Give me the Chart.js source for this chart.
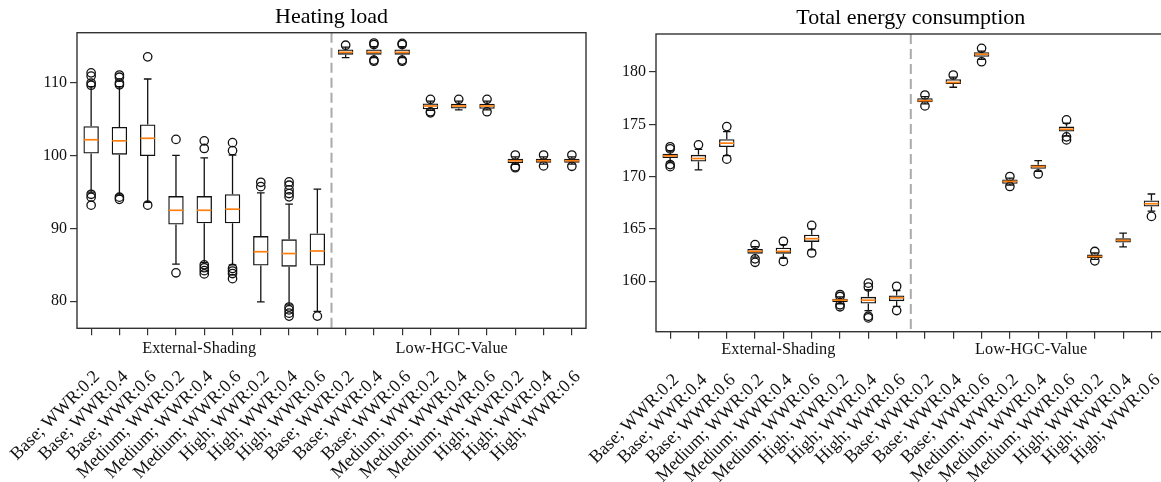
<!DOCTYPE html>
<html><head><meta charset="utf-8">
<script src="https://cdn.jsdelivr.net/npm/chart.js@4.4.0/dist/chart.umd.min.js"></script>
<style>
html,body{margin:0;padding:0;overflow:hidden;background:#fff;width:1161px;height:482px;}
.w{position:absolute;top:0;height:482px;}
</style></head><body>
<div class="w" style="left:0;width:600px"><canvas id="c1" width="600" height="482"></canvas></div>
<div class="w" style="left:540px;width:660px"><canvas id="c2" width="660" height="482"></canvas></div>
<script>
// ---- categories ----
const variants = ['Base; WWR:0.2','Base; WWR:0.4','Base; WWR:0.6','Medium; WWR:0.2','Medium; WWR:0.4','Medium; WWR:0.6','High; WWR:0.2','High; WWR:0.4','High; WWR:0.6'];
const groups = ['External-Shading','Low-HGC-Value'];
const categories = groups.flatMap(() => variants);
const separatorAt = 8.5;
const groupLabelAt = [3.82, 12.75];

// ---- Heating load ----
const heatQ1  = [100.3,100.15,99.95,90.55,90.7,90.7,84.9,84.75,84.9, 113.9,113.9,113.9,106.4,106.5,106.45,99.0,99.05,99.05];
const heatMed = [102.2,102.05,102.4,92.5,92.5,92.65,86.8,86.55,86.9, 114.22,114.22,114.22,106.84,106.84,106.84,99.31,99.31,99.31];
const heatQ3  = [104.05,103.95,104.3,94.45,94.45,94.7,88.95,88.5,89.3, 114.6,114.6,114.6,107.2,107.15,107.15,99.6,99.6,99.6];
const heatLo  = [95.0,94.6,93.6,85.1,85.3,85.0,79.9,79.5,78.6, 113.5,113.5,113.5,106.25,106.3,106.3,98.8,98.85,98.85];
const heatHi  = [109.5,109.5,110.55,100.05,99.7,100.1,94.9,93.35,95.4, 114.95,115.0,115.0,107.5,107.5,107.5,99.85,99.85,99.85];
const heatOut = [
  [111.4,110.95,110.0,109.7,94.7,94.3,93.2],
  [111.1,110.8,110.0,109.75,94.3,94.0],
  [113.6,93.2],
  [102.25,83.9],
  [102.05,101.0,85.0,84.6,84.2,83.75],
  [101.8,100.7,84.5,84.15,83.8,83.1],
  [96.35,95.75],
  [96.4,95.95,95.3,94.8,94.35,79.2,78.8,78.35,77.95],
  [77.95],
  [115.2],
  [115.3,115.5,113.15,113.0],
  [115.3,115.45,113.15,113.0],
  [107.76,106.05,105.9],
  [107.76],
  [107.76,106.05],
  [100.1,98.5,98.35],
  [100.1,98.6],
  [100.1,98.55]
];
const heatTicks = {min: 76.27, max: 116.92, step: 10};

// ---- Total energy consumption ----
const enQ1  = [171.77,171.45,172.82,162.64,162.64,163.76,158.01,157.88,158.1, 177.11,178.86,181.46,169.32,170.75,174.31,162.2,163.7,167.15];
const enMed = [171.99,171.73,173.2,162.86,162.86,164.07,158.2,158.19,158.42, 177.26,179.0,181.69,169.54,170.97,174.53,162.37,163.91,167.41];
const enQ3  = [172.18,172.08,173.58,163.09,163.2,164.45,158.33,158.51,158.64, 177.49,179.3,181.88,169.73,171.13,174.78,162.55,164.1,167.73];
const enLo  = [171.4,170.65,172.0,162.3,162.2,163.0,157.85,157.2,157.6, 176.95,178.54,181.2,169.2,170.5,173.9,162.1,163.28,166.7];
const enHi  = [172.45,172.6,174.3,163.3,163.5,165.0,158.5,159.2,159.1, 177.65,179.5,182.0,169.85,171.52,175.1,162.7,164.6,168.34];
const enOut = [
  [172.85,172.65,171.15,170.95],
  [173.04],
  [174.78,171.67],
  [163.5,162.14,161.81],
  [163.82,161.9],
  [165.34,162.7],
  [158.73,158.55,157.75,157.56],
  [159.82,159.45,156.66,156.5],
  [159.52,157.2],
  [177.8,176.76],
  [179.71],
  [182.26,180.98],
  [170.01,169.06],
  [170.25],
  [175.42,173.8,173.51],
  [162.85,161.95],
  [],
  [166.2]
];
const enTicks = {min: 155.18, max: 183.63, step: 5};

const FONT = "'Liberation Serif','Times New Roman',serif";
const boxFrac = 0.545, capHalf = 0.135, medHalf = 0.255;

function boxPlugin(s) {
  return {
    id: 'boxplot',
    afterDatasetsDraw(chart) {
      const {ctx, chartArea: a, scales: {x, y}} = chart;
      ctx.save();
      const sx = x.getPixelForValue(separatorAt);
      ctx.strokeStyle = '#aaaaaa'; ctx.lineWidth = 2; ctx.setLineDash([10, 5]);
      ctx.beginPath(); ctx.moveTo(sx, a.top); ctx.lineTo(sx, a.bottom); ctx.stroke();
      ctx.setLineDash([]);
      ctx.strokeStyle = '#111'; ctx.lineWidth = 1.3;
      s.q1.forEach((_, i) => {
        const px = x.getPixelForValue(i);
        const cl = x.getPixelForValue(i - capHalf), cr = x.getPixelForValue(i + capHalf);
        const yh = y.getPixelForValue(s.hi[i]), yl = y.getPixelForValue(s.lo[i]);
        ctx.beginPath();
        ctx.moveTo(px, y.getPixelForValue(s.q3[i])); ctx.lineTo(px, yh);
        ctx.moveTo(px, y.getPixelForValue(s.q1[i])); ctx.lineTo(px, yl);
        ctx.moveTo(cl, yh); ctx.lineTo(cr, yh);
        ctx.moveTo(cl, yl); ctx.lineTo(cr, yl);
        ctx.stroke();
      });
      ctx.strokeStyle = '#ff7f0e'; ctx.lineWidth = 1.7;
      s.med.forEach((m, i) => {
        const ym = y.getPixelForValue(m);
        ctx.beginPath();
        ctx.moveTo(x.getPixelForValue(i - medHalf), ym);
        ctx.lineTo(x.getPixelForValue(i + medHalf), ym);
        ctx.stroke();
      });
      ctx.restore();
    },
    afterDraw(chart) {
      const {ctx, chartArea: a, scales: {x}} = chart;
      ctx.save();
      ctx.strokeStyle = '#333'; ctx.lineWidth = 1.4;
      ctx.strokeRect(a.left, a.top, a.right - a.left, a.bottom - a.top);
      ctx.fillStyle = '#111'; ctx.font = '16.3px ' + FONT;
      ctx.textAlign = 'center'; ctx.textBaseline = 'middle';
      groups.forEach((g, k) => ctx.fillText(g, x.getPixelForValue(groupLabelAt[k]), a.bottom + s.groupDy));
      ctx.restore();
    }
  };
}

function makeChart(id, s) {
  const boxes = s.q1.map((q, i) => ({x: i, y: [q, s.q3[i]]}));
  const outs = s.out.flatMap((arr, i) => arr.map(v => ({x: i, y: v})));
  return new Chart(document.getElementById(id), {
    type: 'bar',
    data: {
      datasets: [
        {type: 'bar', data: boxes, backgroundColor: 'rgba(0,0,0,0)', borderColor: '#111', borderWidth: 1.3,
         borderSkipped: false, barPercentage: boxFrac, categoryPercentage: 1, order: 2},
        {type: 'scatter', data: outs, pointRadius: 4.2, pointBorderWidth: 1.3, pointBorderColor: '#111',
         pointBackgroundColor: 'rgba(0,0,0,0)', pointStyle: 'circle', showLine: false, order: 1}
      ]
    },
    options: {
      responsive: false, animation: false, events: [],
      layout: {padding: {left: 0, right: s.padRight, top: 0, bottom: 0}},
      plugins: {
        legend: {display: false}, tooltip: {enabled: false},
        title: {display: true, text: s.title, fullSize: false, color: '#000',
                font: {family: FONT, size: 22, weight: 'normal', lineHeight: 1.2},
                padding: {top: s.titleTop, bottom: s.titleBottom}}
      },
      scales: {
        x: {
          type: 'linear', min: -0.5, max: 17.5, offset: false,
          afterBuildTicks: ax => { ax.ticks = categories.map((c, i) => ({value: i})); },
          afterFit: ax => { ax.height = s.xHeight; ax.paddingLeft = 0; ax.paddingRight = 0; },
          grid: {display: true, drawOnChartArea: false, drawTicks: true, tickLength: 7, color: '#333', lineWidth: 1.2, offset: false},
          border: {display: false},
          ticks: {autoSkip: false, minRotation: 45, maxRotation: 45, padding: 31, labelOffset: 6, color: '#111',
                  font: {family: FONT, size: 18}, callback: v => categories[v]}
        },
        y: {
          min: s.ticks.min, max: s.ticks.max,
          afterFit: ax => { ax.width = s.yWidth; ax.paddingTop = 0; ax.paddingBottom = 0; },
          grid: {display: true, drawOnChartArea: false, drawTicks: true, tickLength: 7, color: '#333', lineWidth: 1.2},
          border: {display: false},
          ticks: {stepSize: s.ticks.step, includeBounds: false, padding: 3, color: '#111',
                  font: {family: FONT, size: 16}}
        }
      }
    },
    plugins: [boxPlugin(s)]
  });
}

makeChart('c1', {title: 'Heating load', q1: heatQ1, med: heatMed, q3: heatQ3, lo: heatLo, hi: heatHi, out: heatOut,
  ticks: heatTicks, yWidth: 77, padRight: 14, xHeight: 153.7, titleTop: 4, titleBottom: 2.3, groupDy: 20.7});
makeChart('c2', {title: 'Total energy consumption', q1: enQ1, med: enMed, q3: enQ3, lo: enLo, hi: enHi, out: enOut,
  ticks: enTicks, yWidth: 116, padRight: 34.4, xHeight: 150.3, titleTop: 5.4, titleBottom: 2.2, groupDy: 18.5});
</script>
</body></html>
